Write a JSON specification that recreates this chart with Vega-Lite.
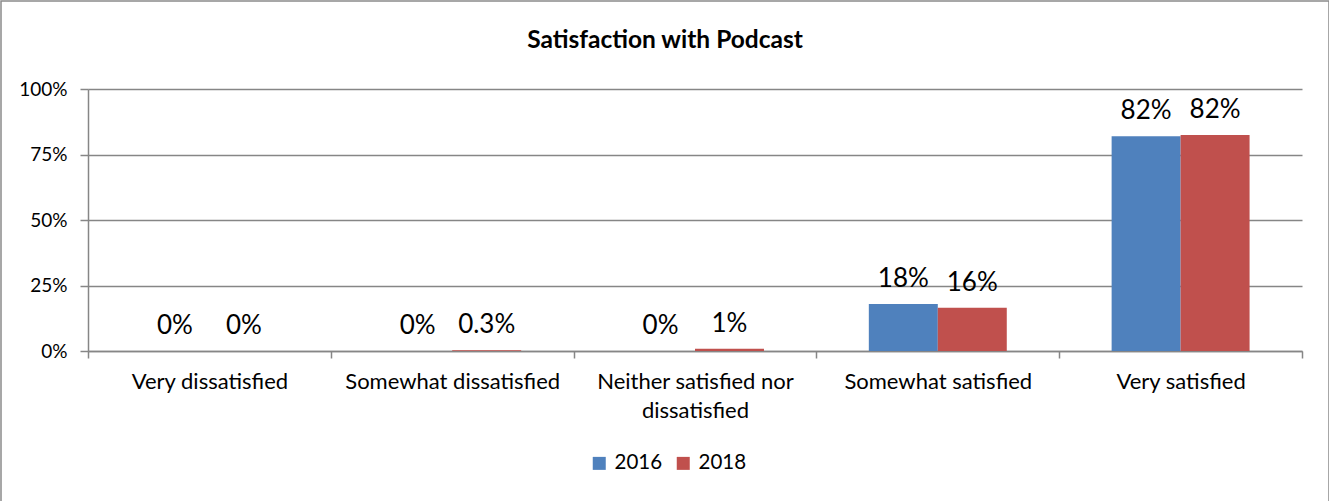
{
  "$schema": "https://vega.github.io/schema/vega-lite/v6.json",
  "autosize": {"type": "none"},
  "padding": {"left": 1, "top": 1, "right": 0, "bottom": 0},
  "width": 1328,
  "height": 530,
  "background": "white",
  "title": {
    "text": "Satisfaction with Podcast",
    "font": "Lato",
    "fontSize": 24.5,
    "fontWeight": "bold",
    "color": "black",
    "anchor": "middle",
    "frame": "group",
    "baseline": "alphabetic",
    "offset": -71
  },
  "config": {
    "view": {"stroke": "#8a8a8a", "strokeWidth": 1.5},
    "font": "Lato"
  },
  "data": {
    "values": [
      {"category": "Very dissatisfied", "year": "2016", "value": 0, "label": "0%"},
      {"category": "Very dissatisfied", "year": "2018", "value": 0, "label": "0%"},
      {"category": "Somewhat dissatisfied", "year": "2016", "value": 0, "label": "0%"},
      {"category": "Somewhat dissatisfied", "year": "2018", "value": 0.003, "label": "0.3%"},
      {"category": "Neither satisfied nor dissatisfied", "year": "2016", "value": 0, "label": "0%"},
      {"category": "Neither satisfied nor dissatisfied", "year": "2018", "value": 0.009, "label": "1%"},
      {"category": "Somewhat satisfied", "year": "2016", "value": 0.179, "label": "18%"},
      {"category": "Somewhat satisfied", "year": "2018", "value": 0.165, "label": "16%"},
      {"category": "Very satisfied", "year": "2016", "value": 0.82, "label": "82%"},
      {"category": "Very satisfied", "year": "2018", "value": 0.824, "label": "82%"}
    ]
  },
  "encoding": {
    "x": {
      "field": "category",
      "type": "nominal",
      "sort": ["Very dissatisfied", "Somewhat dissatisfied", "Neither satisfied nor dissatisfied", "Somewhat satisfied", "Very satisfied"],
      "scale": {"range": [87, 1301], "paddingInner": 0, "paddingOuter": 0},
      "axis": {
        "title": null,
        "orient": "bottom",
        "offset": -180,
        "labelAngle": 0,
        "labelFont": "Lato",
        "labelFontSize": 22,
        "labelColor": "black",
        "labelPadding": 13,
        "labelLineHeight": 29,
        "labelLimit": 400,
        "labelExpr": "datum.label == 'Neither satisfied nor dissatisfied' ? ['Neither satisfied nor', 'dissatisfied'] : datum.label",
        "tickBand": "extent",
        "tickSize": 7,
        "tickColor": "#868686",
        "tickWidth": 1.5,
        "domainColor": "#868686",
        "domainWidth": 1.5,
        "grid": false
      }
    },
    "xOffset": {
      "field": "year",
      "type": "nominal",
      "scale": {"paddingInner": 0, "paddingOuter": 0.76}
    },
    "y": {
      "field": "value",
      "type": "quantitative",
      "scale": {"domain": [0, 1], "range": [350, 88], "nice": false, "zero": true},
      "axis": {
        "title": null,
        "orient": "left",
        "offset": -87,
        "values": [0, 0.25, 0.5, 0.75, 1],
        "format": ".0%",
        "labelFont": "Lato",
        "labelFontSize": 19,
        "labelColor": "black",
        "labelPadding": 13,
        "tickSize": 8,
        "tickColor": "#868686",
        "tickWidth": 1.5,
        "domainColor": "#868686",
        "domainWidth": 1.5,
        "grid": true,
        "gridColor": "#868686",
        "gridWidth": 1.5
      }
    }
  },
  "layer": [
    {
      "mark": {"type": "bar"},
      "encoding": {
        "color": {
          "field": "year",
          "type": "nominal",
          "scale": {"domain": ["2016", "2018"], "range": ["#4F81BD", "#C0504D"]},
          "legend": {
            "title": null,
            "orient": "none",
            "legendX": 588,
            "legendY": 452,
            "direction": "horizontal",
            "symbolType": "square",
            "symbolSize": 169,
            "symbolStrokeWidth": 0,
            "labelFont": "Lato",
            "labelFontSize": 20.5,
            "labelColor": "black",
            "labelOffset": 5,
            "columnPadding": 10
          }
        }
      }
    },
    {
      "mark": {"type": "text", "baseline": "alphabetic", "dy": -17, "fontSize": 26, "font": "Lato", "color": "black"},
      "encoding": {
        "text": {"field": "label"}
      }
    }
  ]
}
